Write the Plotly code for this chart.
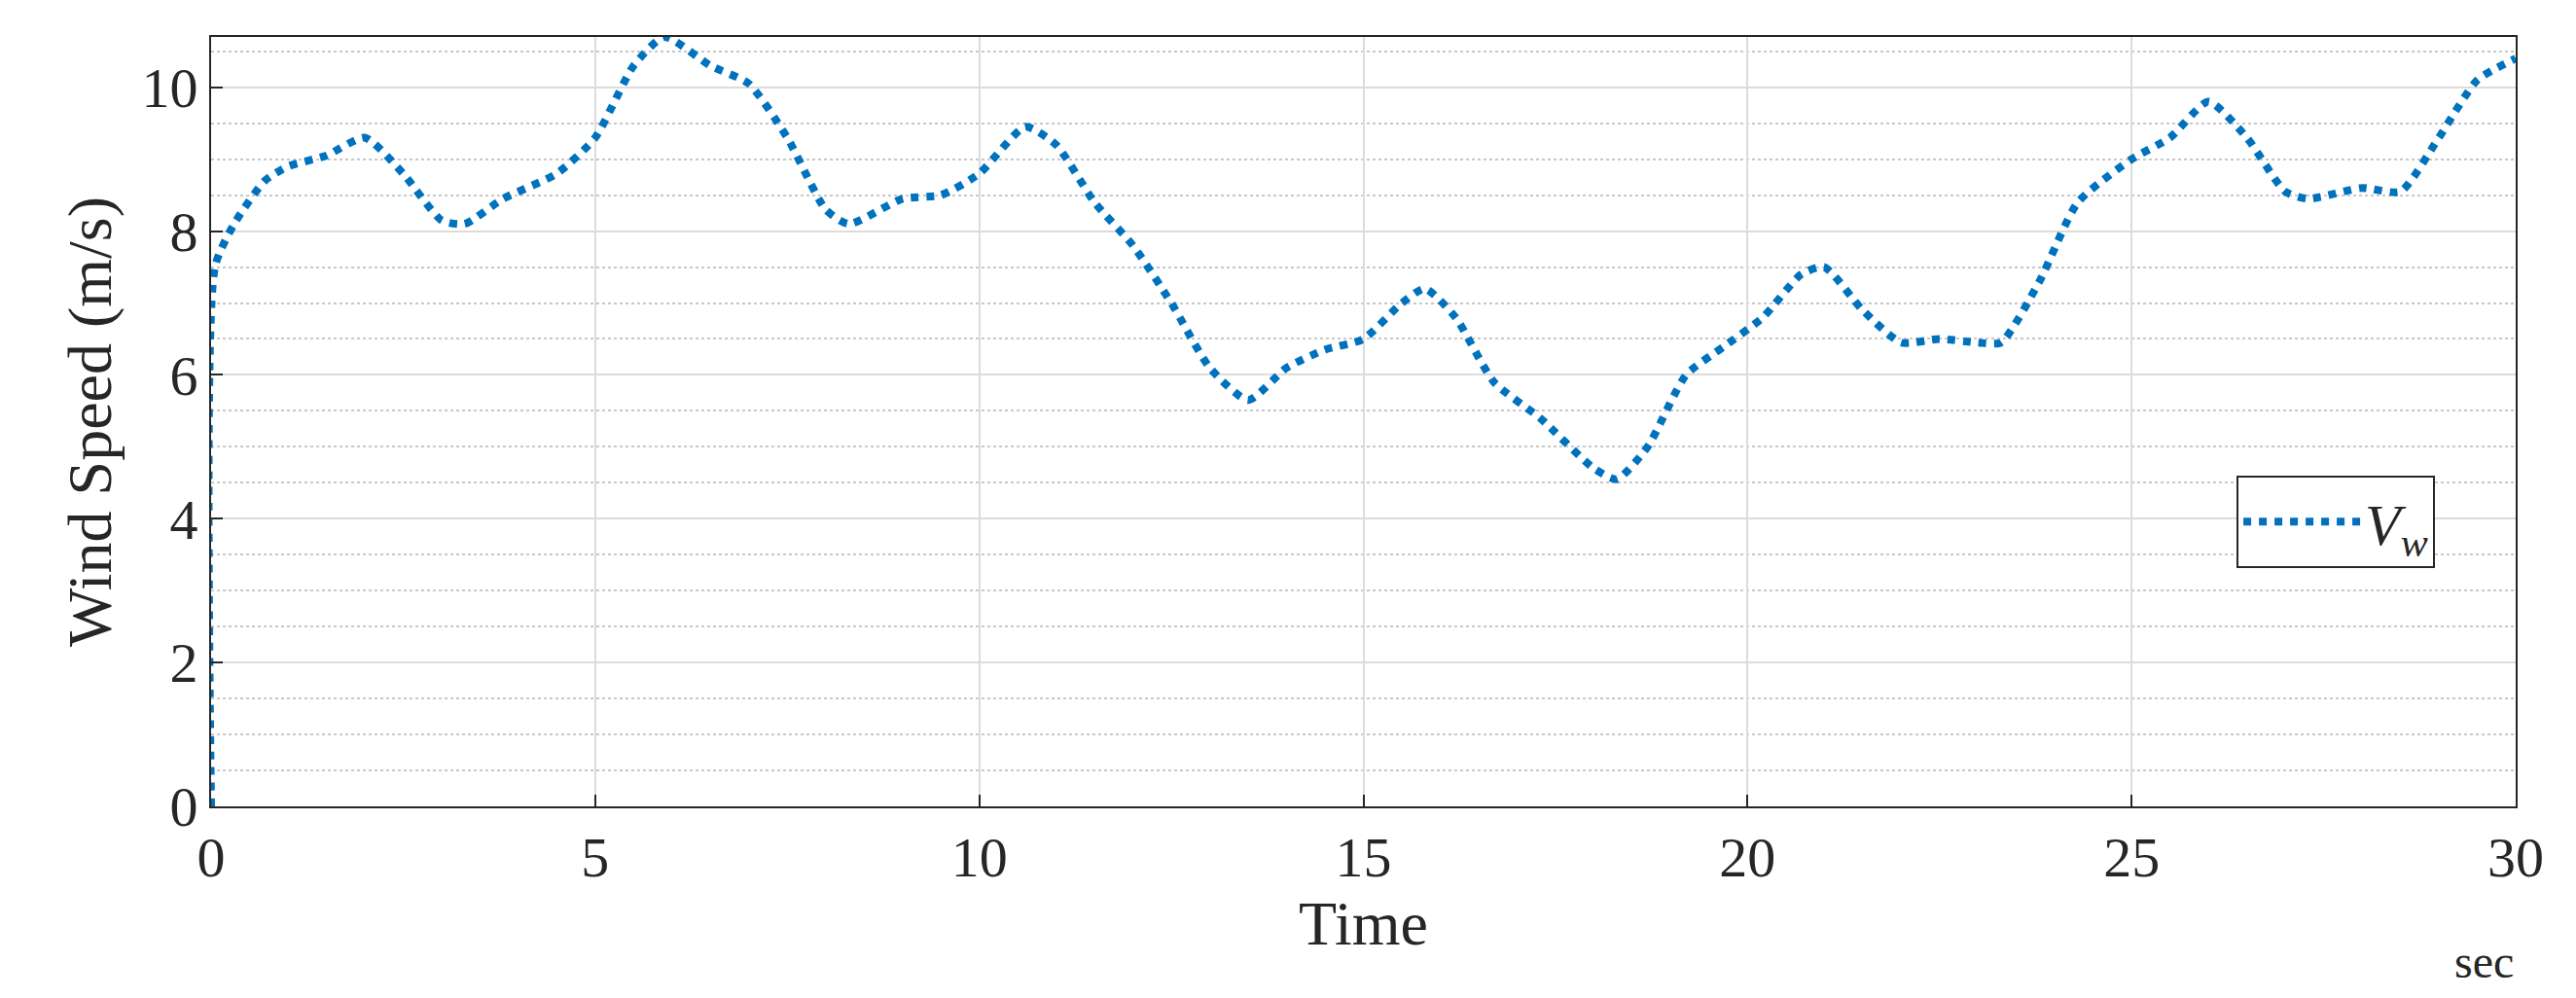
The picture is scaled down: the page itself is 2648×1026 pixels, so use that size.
import plotly.graph_objects as go

t = [0, 0.05, 0.3, 0.7, 1, 1.5, 2, 2.5, 3, 3.3, 3.8, 4.5, 5, 5.5, 5.9, 6.5, 7, 7.5, 8, 8.3, 9, 9.5, 10, 10.6, 11, 11.5, 12, 12.5, 13, 13.5, 14, 14.5, 15, 15.5, 15.8, 16.2, 16.7, 17.3, 18, 18.3, 18.7, 19.2, 19.7, 20.2, 20.7, 21, 21.5, 22, 22.5, 23, 23.3, 23.8, 24.3, 25, 25.5, 26, 26.5, 27, 27.3, 28, 28.5, 29, 29.5, 30]
vw = [0, 7.5, 8.1, 8.7, 8.9, 9.05, 9.3, 8.8, 8.15, 8.1, 8.45, 8.8, 9.3, 10.3, 10.7, 10.3, 10.05, 9.3, 8.3, 8.1, 8.45, 8.5, 8.8, 9.45, 9.2, 8.4, 7.8, 7.0, 6.1, 5.65, 6.1, 6.35, 6.5, 7.0, 7.2, 6.8, 5.9, 5.4, 4.7, 4.55, 5.0, 6.0, 6.4, 6.8, 7.4, 7.5, 6.9, 6.45, 6.5, 6.45, 6.45, 7.3, 8.4, 9.0, 9.3, 9.8, 9.3, 8.55, 8.45, 8.6, 8.55, 9.3, 10.1, 10.4]
xticks = [0, 5, 10, 15, 20, 25, 30]
yticks = [0, 2, 4, 6, 8, 10]

fig = go.Figure()
fig.add_trace(go.Scatter(x=t, y=vw, mode="lines", name="<i>V<sub>w</sub></i>",
                         line=dict(color="#0072BD", width=8, dash="dot", shape="spline", smoothing=0.6)))
font = dict(family="Liberation Serif, DejaVu Serif, serif", color="#262626")
axis = dict(showline=True, linecolor="#262626", linewidth=2, mirror=True, ticks="inside",
            ticklen=12, tickwidth=2, tickcolor="#262626", gridcolor="#dcdcdc", gridwidth=2,
            zeroline=False, tickfont=dict(size=58, **font))
fig.update_layout(
    width=2648, height=1026, plot_bgcolor="white", paper_bgcolor="white",
    margin=dict(l=209, r=70, t=30, b=205),
    font=font,
    xaxis=dict(range=[0, 30], tickvals=xticks, title=dict(text="Time", font=dict(size=64, **font), standoff=5), **axis),
    yaxis=dict(range=[0, 10.7], tickvals=yticks,
               minor=dict(dtick=0.5, showgrid=True, gridcolor="#c8c8c8", griddash="dot", gridwidth=2, ticks=""),
               title=dict(text="Wind Speed (m/s)", font=dict(size=64, **font), standoff=10), **axis),
    legend=dict(x=0.965, y=0.37, xanchor="right", yanchor="middle", bordercolor="#262626", borderwidth=2,
                bgcolor="white", font=dict(size=60, **font), itemwidth=120),
    showlegend=True,
)
fig.add_annotation(text="sec", xref="paper", yref="paper", x=1, y=-0.165, xanchor="right", yanchor="top",
                   showarrow=False, font=dict(size=48, **font))
fig.write_html("out.html")
